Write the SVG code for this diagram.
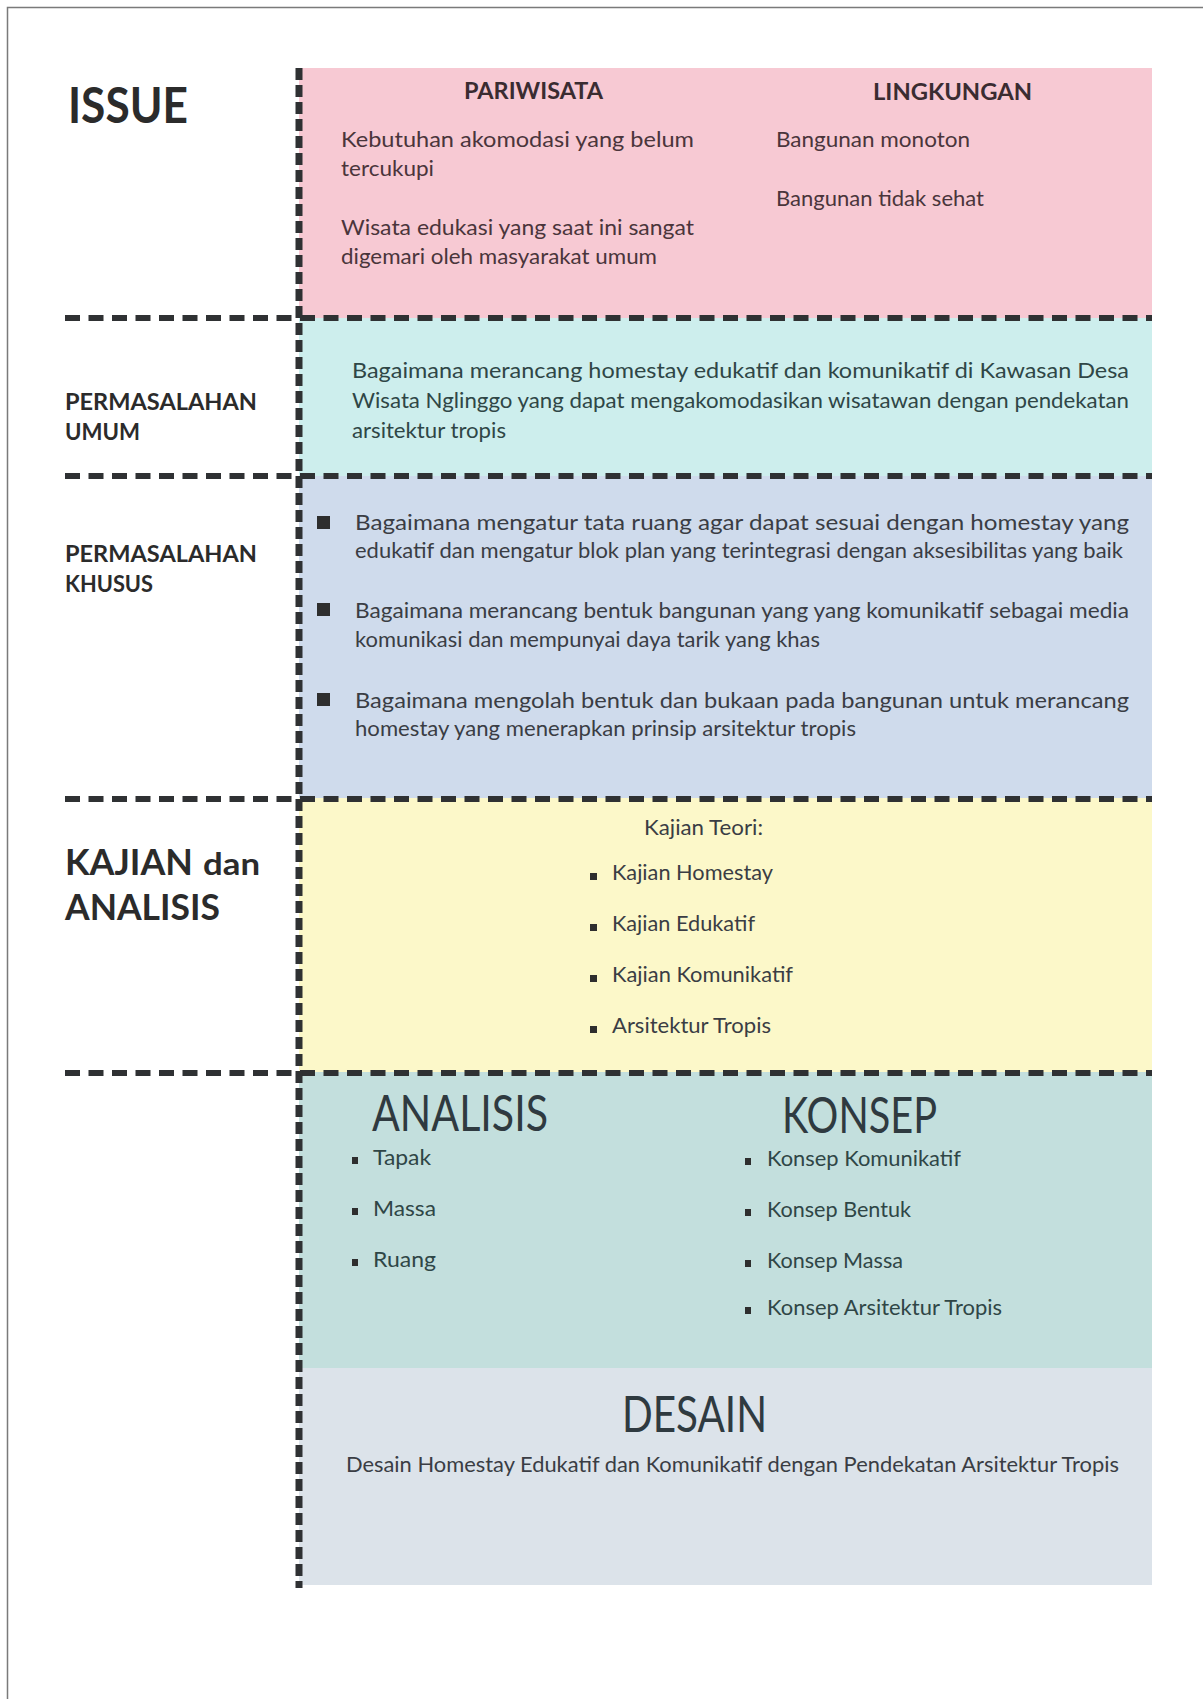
<svg xmlns="http://www.w3.org/2000/svg" width="1203" height="1699" viewBox="0 0 1203 1699">
<style>
.lbl{font-family:"Lato","Open Sans","Liberation Sans",sans-serif;font-weight:700;fill:#2b2b2b}
.hd{font-family:"Lato","Open Sans","Liberation Sans",sans-serif;font-weight:700;font-size:22px;fill:#3a2c31}
.t{font-family:"Lato","Open Sans","Liberation Sans",sans-serif;font-size:22px;fill:#3a3d44}
.tp{fill:#4a353b}
.tg{fill:#2f4646}
.big{font-family:"Lato","Open Sans","Liberation Sans",sans-serif;font-weight:400;font-size:50px;fill:#2f3a40}
.sq{fill:#2e2e2e}
.dh{stroke:#2f3133;stroke-width:6;stroke-dasharray:15 8.5;fill:none}
.dv{stroke:#2f3133;stroke-width:7;stroke-dasharray:12 5;fill:none}
</style>
<rect x="0" y="0" width="1203" height="1699" fill="#ffffff"/>
<g id="frame" fill="none" stroke="#7a7a7a" stroke-width="1.5">
<path d="M7.5 1699 V7.5 H1203"/>
</g>

<g id="issue">
<rect x="299" y="68" width="853" height="250" fill="#f7c9d3"/>
<text class="lbl" x="68" y="123" font-size="50" textLength="120" lengthAdjust="spacingAndGlyphs">ISSUE</text>
<text class="hd" x="464" y="99" textLength="139" lengthAdjust="spacingAndGlyphs">PARIWISATA</text>
<text class="hd" x="873" y="100" textLength="159" lengthAdjust="spacingAndGlyphs">LINGKUNGAN</text>
<text class="t tp" x="341" y="147" textLength="353" lengthAdjust="spacingAndGlyphs">Kebutuhan  akomodasi  yang  belum</text>
<text class="t tp" x="341" y="176" textLength="93" lengthAdjust="spacingAndGlyphs">tercukupi</text>
<text class="t tp" x="341" y="235" textLength="353" lengthAdjust="spacingAndGlyphs">Wisata edukasi yang saat ini sangat</text>
<text class="t tp" x="341" y="264" textLength="316" lengthAdjust="spacingAndGlyphs">digemari oleh masyarakat umum</text>
<text class="t tp" x="776" y="147" textLength="194" lengthAdjust="spacingAndGlyphs">Bangunan monoton</text>
<text class="t tp" x="776" y="206" textLength="208" lengthAdjust="spacingAndGlyphs">Bangunan tidak sehat</text>
</g>

<g id="permasalahan-umum">
<rect x="299" y="318" width="853" height="158" fill="#cdeeed"/>
<text class="lbl" x="65" y="410" font-size="23" textLength="192" lengthAdjust="spacingAndGlyphs">PERMASALAHAN</text>
<text class="lbl" x="65" y="440" font-size="23" textLength="75" lengthAdjust="spacingAndGlyphs">UMUM</text>
<text class="t tg" x="352" y="378" textLength="777" lengthAdjust="spacingAndGlyphs">Bagaimana merancang homestay edukatif dan komunikatif di Kawasan Desa</text>
<text class="t tg" x="352" y="408" textLength="777" lengthAdjust="spacingAndGlyphs">Wisata Nglinggo yang dapat mengakomodasikan wisatawan dengan pendekatan</text>
<text class="t tg" x="352" y="438" textLength="154" lengthAdjust="spacingAndGlyphs">arsitektur tropis</text>
</g>

<g id="permasalahan-khusus">
<rect x="299" y="476" width="853" height="322" fill="#cfdbec"/>
<text class="lbl" x="65" y="562" font-size="23" textLength="192" lengthAdjust="spacingAndGlyphs">PERMASALAHAN</text>
<text class="lbl" x="65" y="592" font-size="23" textLength="88" lengthAdjust="spacingAndGlyphs">KHUSUS</text>
<rect class="sq" x="317" y="516" width="13" height="13"/>
<rect class="sq" x="317" y="603" width="13" height="13"/>
<rect class="sq" x="317" y="693" width="13" height="13"/>
<text class="t" x="355" y="530" textLength="774" lengthAdjust="spacingAndGlyphs">Bagaimana mengatur tata ruang agar dapat sesuai dengan homestay yang</text>
<text class="t" x="355" y="558" textLength="768" lengthAdjust="spacingAndGlyphs">edukatif dan mengatur blok plan yang terintegrasi dengan aksesibilitas yang baik</text>
<text class="t" x="355" y="618" textLength="774" lengthAdjust="spacingAndGlyphs">Bagaimana merancang bentuk bangunan yang yang komunikatif sebagai media</text>
<text class="t" x="355" y="647" textLength="465" lengthAdjust="spacingAndGlyphs">komunikasi dan mempunyai daya tarik yang khas</text>
<text class="t" x="355" y="708" textLength="774" lengthAdjust="spacingAndGlyphs">Bagaimana mengolah bentuk dan bukaan pada bangunan untuk merancang</text>
<text class="t" x="355" y="736" textLength="501" lengthAdjust="spacingAndGlyphs">homestay yang menerapkan prinsip arsitektur tropis</text>
</g>

<g id="kajian">
<rect x="299" y="798" width="853" height="274" fill="#fcf8c9"/>
<text class="lbl" x="65" y="875" font-size="37" textLength="128" lengthAdjust="spacingAndGlyphs">KAJIAN</text>
<text class="lbl" x="203" y="875" font-size="30" font-weight="400" textLength="57" lengthAdjust="spacingAndGlyphs">dan</text>
<text class="lbl" x="65" y="920" font-size="37" textLength="155" lengthAdjust="spacingAndGlyphs">ANALISIS</text>
<text class="t" x="644" y="835" textLength="119" lengthAdjust="spacingAndGlyphs">Kajian Teori:</text>
<rect class="sq" x="590" y="873" width="7" height="7"/>
<rect class="sq" x="590" y="924" width="7" height="7"/>
<rect class="sq" x="590" y="975" width="7" height="7"/>
<rect class="sq" x="590" y="1026" width="7" height="7"/>
<text class="t" x="612" y="880" textLength="161" lengthAdjust="spacingAndGlyphs">Kajian Homestay</text>
<text class="t" x="612" y="931" textLength="143" lengthAdjust="spacingAndGlyphs">Kajian Edukatif</text>
<text class="t" x="612" y="982" textLength="181" lengthAdjust="spacingAndGlyphs">Kajian Komunikatif</text>
<text class="t" x="612" y="1033" textLength="159" lengthAdjust="spacingAndGlyphs">Arsitektur Tropis</text>
</g>

<g id="analisis-konsep">
<rect x="299" y="1072" width="853" height="296" fill="#c3dfdd"/>
<text class="big" x="372" y="1131" textLength="176" lengthAdjust="spacingAndGlyphs">ANALISIS</text>
<text class="big" x="782" y="1133" textLength="155" lengthAdjust="spacingAndGlyphs">KONSEP</text>
<rect class="sq" x="352" y="1157" width="6" height="7"/>
<rect class="sq" x="352" y="1208" width="6" height="7"/>
<rect class="sq" x="352" y="1259" width="6" height="7"/>
<text class="t tg" x="373" y="1165" textLength="58" lengthAdjust="spacingAndGlyphs">Tapak</text>
<text class="t tg" x="373" y="1216" textLength="63" lengthAdjust="spacingAndGlyphs">Massa</text>
<text class="t tg" x="373" y="1267" textLength="63" lengthAdjust="spacingAndGlyphs">Ruang</text>
<rect class="sq" x="745" y="1158" width="6" height="7"/>
<rect class="sq" x="745" y="1209" width="6" height="7"/>
<rect class="sq" x="745" y="1260" width="6" height="7"/>
<rect class="sq" x="745" y="1307" width="6" height="7"/>
<text class="t tg" x="767" y="1166" textLength="194" lengthAdjust="spacingAndGlyphs">Konsep Komunikatif</text>
<text class="t tg" x="767" y="1217" textLength="144" lengthAdjust="spacingAndGlyphs">Konsep Bentuk</text>
<text class="t tg" x="767" y="1268" textLength="136" lengthAdjust="spacingAndGlyphs">Konsep Massa</text>
<text class="t tg" x="767" y="1315" textLength="235" lengthAdjust="spacingAndGlyphs">Konsep Arsitektur Tropis</text>
</g>

<g id="desain">
<rect x="299" y="1368" width="853" height="217" fill="#dce3ea"/>
<text class="big" x="622" y="1432" textLength="145" lengthAdjust="spacingAndGlyphs">DESAIN</text>
<text class="t" x="346" y="1472" textLength="773" lengthAdjust="spacingAndGlyphs">Desain Homestay Edukatif dan Komunikatif dengan Pendekatan Arsitektur Tropis</text>
</g>

<g id="connectors">
<line class="dh" x1="65" y1="318" x2="1152" y2="318"/>
<line class="dh" x1="65" y1="476" x2="1152" y2="476"/>
<line class="dh" x1="65" y1="799" x2="1152" y2="799"/>
<line class="dh" x1="65" y1="1073" x2="1152" y2="1073"/>
<line class="dv" x1="299" y1="68" x2="299" y2="1588"/>
</g>
</svg>
